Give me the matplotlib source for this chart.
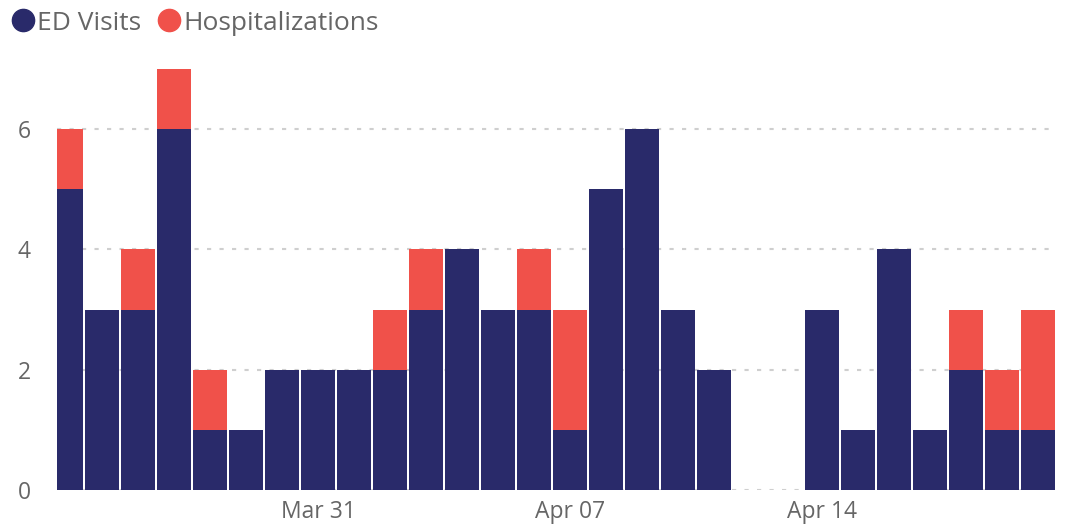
import numpy as np
import pandas as pd
import matplotlib
matplotlib.use("Agg")
import matplotlib.pyplot as plt
import matplotlib.dates as mdates
from matplotlib.lines import Line2D

# Veriler
gunler = pd.date_range("2024-03-24", "2024-04-20", freq="D")
acil_ziyaret = [5, 3, 3, 6, 1, 1, 2, 2, 2, 2, 3, 4, 3, 3, 1, 5, 6, 3, 2, 0, 0, 3, 1, 4, 1, 2, 1, 1]
hastane_yatis = [1, 0, 1, 1, 1, 0, 0, 0, 0, 1, 1, 0, 0, 1, 2, 0, 0, 0, 0, 0, 0, 0, 0, 0, 0, 1, 1, 2]
etiket_gunleri = ["2024-03-31", "2024-04-07", "2024-04-14"]
y_tikler = [0, 2, 4, 6]

lacivert = "#292a6a"
kirmizi = "#f0514a"
gri_yazi = "#666666"

plt.rcParams["font.family"] = ["Open Sans", "DejaVu Sans"]

fig = plt.figure(figsize=(10.69, 5.28), dpi=100)
ax = fig.add_axes([57 / 1069, 38 / 528, 1000 / 1069, 421 / 528])

ax.bar(gunler, acil_ziyaret, width=0.94, color=lacivert, zorder=3)
ax.bar(gunler, hastane_yatis, bottom=acil_ziyaret, width=0.94, color=kirmizi, zorder=3)

ax.set_xlim(mdates.date2num(gunler[0]) - 0.25, mdates.date2num(gunler[-1]) + 0.53)
ax.set_ylim(0, 7)

ax.set_yticks(y_tikler)
ax.set_xticks(pd.to_datetime(etiket_gunleri))
ax.xaxis.set_major_formatter(mdates.DateFormatter("%b %d"))
ax.tick_params(axis="both", length=0, labelsize=16.5, labelcolor=gri_yazi)
ax.tick_params(axis="y", pad=19)
ax.tick_params(axis="x", pad=7)

ax.grid(axis="y", color="#cfcfcf", linestyle=(0, (2, 4)), linewidth=1.5, zorder=0)
for s in ax.spines.values():
    s.set_visible(False)

# Lejant
isaretler = [
    Line2D([], [], marker="o", linestyle="none", markersize=16, color=lacivert),
    Line2D([], [], marker="o", linestyle="none", markersize=16, color=kirmizi),
]
fig.legend(isaretler, ["ED Visits", "Hospitalizations"], loc="upper left",
           bbox_to_anchor=(-0.0135, 1.025), ncol=2, frameon=False, fontsize=19,
           labelcolor=gri_yazi, handletextpad=0.05, columnspacing=0.55, handlelength=1.0)

fig.savefig("out.png", dpi=100)
